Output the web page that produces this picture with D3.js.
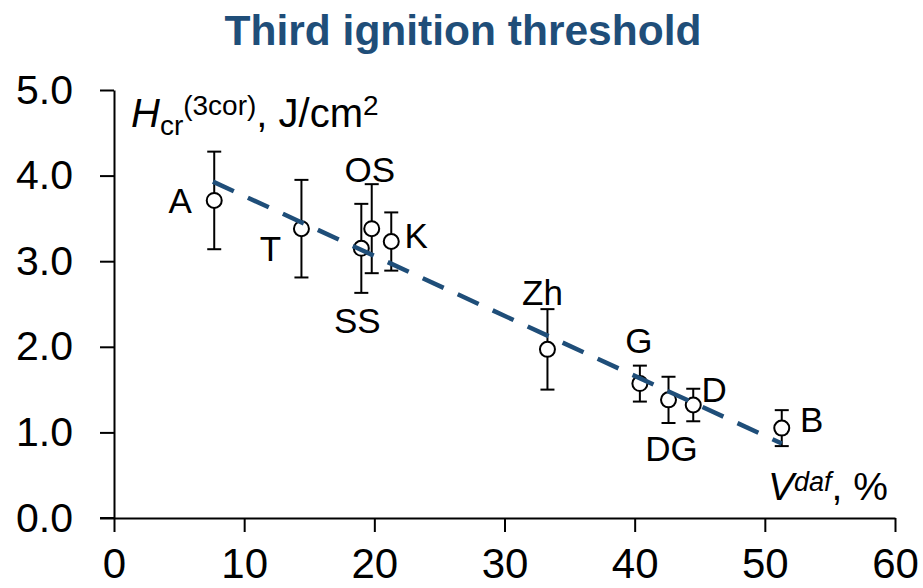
<!DOCTYPE html>
<html>
<head>
<meta charset="utf-8">
<script src="https://cdn.jsdelivr.net/npm/d3@7"></script>
<style>
  html, body { margin: 0; padding: 0; background: #fff; }
  svg { display: block; font-family: "Liberation Sans", Arial, sans-serif; }
</style>
</head>
<body>
<svg id="chart" width="923" height="588"></svg>
<script>
// Coal samples: volatile matter V^daf (%) vs. third ignition threshold H_cr(3cor) (J/cm²)
const coals   = ["A", "T", "SS", "OS", "K", "Zh", "G", "DG", "D", "B"];
const vdaf    = [7.7, 14.4, 19.0, 19.8, 21.3, 33.3, 40.4, 42.6, 44.5, 51.3];
const hcr     = [3.71, 3.38, 3.15, 3.38, 3.23, 1.97, 1.57, 1.38, 1.32, 1.05];
const hcrErr  = [0.57, 0.57, 0.52, 0.52, 0.34, 0.47, 0.21, 0.27, 0.19, 0.21];

// Linear trend, drawn between its end points
const trendX = [7.6, 51.3];
const trendY = [3.93, 0.87];

const xTicks = [0, 10, 20, 30, 40, 50, 60];
const yTicks = [0, 1, 2, 3, 4, 5];

// Label offsets (px) around each point
const labelOffsets = {
  A: [-34, 13], T: [-31, 32], SS: [-4, 85], OS: [-2, -47], K: [25, 6],
  Zh: [-5, -44], G: [-1, -31], DG: [3, 61], D: [21, -3], B: [30, 4]
};

const blue = "#1f4e79";
const svg = d3.select("#chart");

const x = d3.scaleLinear().domain([0, 60]).range([114, 895]);
const y = d3.scaleLinear().domain([0, 5]).range([518, 90]);

// Title
svg.append("text")
  .attr("x", 463).attr("y", 45)
  .attr("text-anchor", "middle")
  .attr("font-size", 42.5).attr("font-weight", "bold")
  .attr("fill", blue)
  .text("Third ignition threshold");

// Axes
const yAxis = svg.append("g")
  .attr("transform", `translate(${x(0)},0)`)
  .call(d3.axisLeft(y).tickValues(yTicks).tickFormat(d3.format(".1f"))
    .tickSize(14).tickSizeOuter(0).tickPadding(27));
yAxis.selectAll("text").attr("font-size", 41).attr("fill", "#000")
  .attr("font-family", "Liberation Sans, Arial, sans-serif");

const xAxis = svg.append("g")
  .attr("transform", `translate(0,${y(0)})`)
  .call(d3.axisBottom(x).tickValues(xTicks).tickFormat(d3.format("d"))
    .tickSize(14).tickSizeOuter(0));
xAxis.selectAll("text")
  .attr("dy", null).attr("y", 60)
  .attr("font-size", 42).attr("fill", "#000")
  .attr("font-family", "Liberation Sans, Arial, sans-serif");

[yAxis, xAxis].forEach(g => {
  g.selectAll("path, line").attr("stroke", "#000").attr("stroke-width", 2);
});
// x axis line continues under the 0.0 tick
svg.append("line")
  .attr("x1", x(0) - 14).attr("x2", x(0))
  .attr("y1", y(0)).attr("y2", y(0))
  .attr("stroke", "#000").attr("stroke-width", 2);

// Axis titles
const yt = svg.append("text")
  .attr("x", 131).attr("y", 127)
  .attr("font-size", 40).attr("fill", "#000");
yt.append("tspan").attr("font-style", "italic").text("H");
yt.append("tspan").attr("font-size", 28).attr("dy", 8).text("cr");
yt.append("tspan").attr("font-size", 28).attr("dy", -20).text("(3cor)");
yt.append("tspan").attr("dy", 12).text(", J/cm");
yt.append("tspan").attr("font-size", 28).attr("dy", -12).text("2");

const xt = svg.append("text")
  .attr("x", 768).attr("y", 500)
  .attr("font-size", 39).attr("fill", "#000");
xt.append("tspan").attr("font-style", "italic").text("V");
xt.append("tspan").attr("font-style", "italic").attr("font-size", 27).attr("dy", -9).text("daf");
xt.append("tspan").attr("dy", 9).text(", %");

// Points
const data = coals.map((c, i) => ({ name: c, x: vdaf[i], y: hcr[i], e: hcrErr[i] }));
const cap = 7;

const pts = svg.append("g").selectAll("g").data(data).join("g");
pts.append("line")
  .attr("x1", d => x(d.x)).attr("x2", d => x(d.x))
  .attr("y1", d => y(d.y + d.e)).attr("y2", d => y(d.y - d.e))
  .attr("stroke", "#000").attr("stroke-width", 2);
pts.append("line")
  .attr("x1", d => x(d.x) - cap).attr("x2", d => x(d.x) + cap)
  .attr("y1", d => y(d.y + d.e)).attr("y2", d => y(d.y + d.e))
  .attr("stroke", "#000").attr("stroke-width", 2);
pts.append("line")
  .attr("x1", d => x(d.x) - cap).attr("x2", d => x(d.x) + cap)
  .attr("y1", d => y(d.y - d.e)).attr("y2", d => y(d.y - d.e))
  .attr("stroke", "#000").attr("stroke-width", 2);
pts.append("circle")
  .attr("cx", d => x(d.x)).attr("cy", d => y(d.y)).attr("r", 7.5)
  .attr("fill", "#fff").attr("stroke", "#000").attr("stroke-width", 2);

// Trend line
svg.append("path")
  .datum(trendX.map((v, i) => [v, trendY[i]]))
  .attr("d", d3.line().x(d => x(d[0])).y(d => y(d[1])))
  .attr("fill", "none").attr("stroke", blue)
  .attr("stroke-width", 4.5).attr("stroke-dasharray", "23,15.5");

// Point labels
svg.append("g").selectAll("text").data(data).join("text")
  .attr("x", d => x(d.x) + labelOffsets[d.name][0])
  .attr("y", d => y(d.y) + labelOffsets[d.name][1])
  .attr("text-anchor", "middle")
  .attr("font-size", 35).attr("fill", "#000")
  .text(d => d.name);
</script>
</body>
</html>
